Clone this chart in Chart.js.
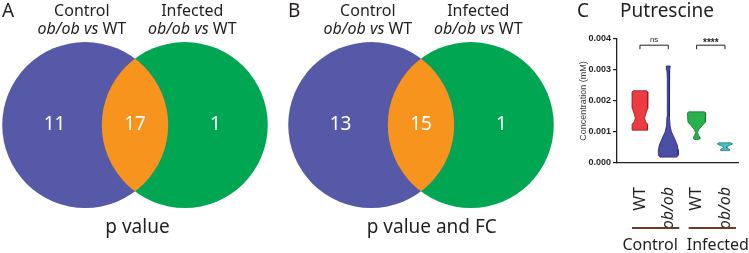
<!DOCTYPE html>
<html>
<head>
<meta charset="utf-8">
<title>Putrescine</title>
<script src="https://cdn.jsdelivr.net/npm/chart.js@4.4.1/dist/chart.umd.min.js"></script>
<style>
  html, body { margin: 0; padding: 0; background: #fff; }
  #page { position: relative; width: 749px; height: 253px; overflow: hidden; }
  #page canvas { position: absolute; top: 0; }
</style>
</head>
<body>
<div id="page">
  <canvas id="vennA" width="270" height="253" style="left:0px"></canvas>
  <canvas id="vennB" width="270" height="253" style="left:286px"></canvas>
  <canvas id="violin" width="229" height="253" style="left:520px"></canvas>
</div>
<script>
// ---- data ----
const vennSets = ['Control', 'Infected'];
const pValueCounts = [11, 17, 1];      // Control only, shared, Infected only
const pValueFcCounts = [13, 15, 1];

const genotypes = ['WT', 'ob/ob', 'WT', 'ob/ob'];
const groups = ['Control', 'Infected'];
const yTickValues = [0, 0.001, 0.002, 0.003, 0.004];

// violin outlines, top to bottom: [concentration (mM), relative half width]
const wtControl = [[0.00233, 0.85], [0.00229, 1], [0.00200, 1], [0.00176, 0.95], [0.00160, 0.75], [0.00145, 0.58], [0.00134, 0.7], [0.00124, 0.98], [0.00110, 1], [0.00106, 0.9]];
const obControl = [[0.00313, 0.2], [0.00300, 0.14], [0.00270, 0.1], [0.00200, 0.1], [0.00150, 0.13], [0.00120, 0.18], [0.00100, 0.32], [0.00080, 0.62], [0.00058, 0.9], [0.00042, 1], [0.00025, 1], [0.00019, 0.85]];
const wtInfected = [[0.00165, 0.85], [0.00162, 1], [0.00150, 1], [0.00132, 0.95], [0.00120, 0.6], [0.00108, 0.25], [0.00098, 0.1], [0.00090, 0.2], [0.00083, 0.35], [0.00078, 0.35], [0.00076, 0.2]];
const obInfected = [[0.00065, 0.85], [0.00061, 1], [0.00057, 0.6], [0.00052, 0.2], [0.00048, 0.25], [0.00044, 0.55], [0.00041, 0.6], [0.00040, 0.5]];

// [q1, median, q3], null where no line is visible
const wtControlQ = [0.00126, 0.0018, 0.00209];
const obControlQ = [0.00040, 0.00055, null];
const wtInfectedQ = [0.00130, 0.00145, 0.00158];
const obInfectedQ = [null, 0.00059, null];

const comparisons = [['ns', 0, 1], ['****', 2, 3]];

// ---- styles ----
const FONT = '"Noto Sans", sans-serif';
const AXIS_FONT = '"Liberation Sans", Arial, sans-serif';
const INK = '#231f20';
const VENN_BLUE = '#5659a7';
const VENN_GREEN = '#00a651';
const VENN_ORANGE = '#f7941e';
const VENN_SHIFT = 0.6;   // circle centre offset, in radii

const violinFill = ['#ee3b3f', '#4a4ea6', '#27b24b', '#45c3c9'];
const violinEdge = ['#8e1b1f', '#23266b', '#137030', '#1d7378'];
const violinHalfWidth = [0.28, 0.35, 0.32, 0.27];
const groupLabelAt = [1.36, 3.75];

// ---- venn diagrams ----
const unitRadius = (ctx) => {
    const s = ctx.chart.scales.x;
    return s.getPixelForValue(1) - s.getPixelForValue(0);
};

const vennPlugin = {
    id: 'venn',
    afterDatasetsDraw(chart, args, opts) {
        const { ctx, scales: { x, y } } = chart;
        const r = x.getPixelForValue(1) - x.getPixelForValue(0);
        const cy = y.getPixelForValue(0);
        const lx = x.getPixelForValue(-VENN_SHIFT);
        const rx = x.getPixelForValue(VENN_SHIFT);

        // overlap lens
        ctx.save();
        ctx.beginPath();
        ctx.arc(lx, cy, r, 0, Math.PI * 2);
        ctx.clip();
        ctx.beginPath();
        ctx.arc(rx, cy, r, 0, Math.PI * 2);
        ctx.fillStyle = VENN_ORANGE;
        ctx.fill();
        ctx.restore();

        ctx.save();
        // counts
        ctx.fillStyle = '#ffffff';
        ctx.font = `19px ${FONT}`;
        ctx.textAlign = 'center';
        ctx.textBaseline = 'middle';
        [-0.97, 0, 0.97].forEach((u, i) => {
            ctx.fillText(String(opts.counts[i]), x.getPixelForValue(u), cy);
        });

        // set headers
        ctx.fillStyle = INK;
        [-0.64, 0.69].forEach((u, i) => {
            const px = x.getPixelForValue(u);
            ctx.font = `16px ${FONT}`;
            ctx.textAlign = 'center';
            ctx.fillText(vennSets[i], px, 11);
            const italicPart = 'ob/ob vs ';
            const plainPart = 'WT';
            ctx.font = `italic 16px ${FONT}`;
            const w1 = ctx.measureText(italicPart).width;
            ctx.font = `16px ${FONT}`;
            const w2 = ctx.measureText(plainPart).width;
            const start = px - (w1 + w2) / 2;
            ctx.textAlign = 'left';
            ctx.font = `italic 16px ${FONT}`;
            ctx.fillText(italicPart, start, 29);
            ctx.font = `16px ${FONT}`;
            ctx.fillText(plainPart, start + w1, 29);
        });

        // caption and panel letter
        ctx.textAlign = 'center';
        ctx.font = `19px ${FONT}`;
        ctx.fillText(opts.caption, x.getPixelForValue(opts.captionAt), 228);
        ctx.textAlign = 'left';
        ctx.fillText(opts.letter, 2, 12);
        ctx.restore();
    }
};

function makeVenn(id, counts, caption, captionAt, letter) {
    return new Chart(document.getElementById(id), {
        type: 'scatter',
        data: {
            datasets: [
                { data: [{ x: -VENN_SHIFT, y: 0 }], pointBackgroundColor: VENN_BLUE },
                { data: [{ x: VENN_SHIFT, y: 0 }], pointBackgroundColor: VENN_GREEN }
            ]
        },
        options: {
            responsive: false,
            animation: false,
            events: [],
            layout: { padding: 0 },
            elements: { point: { radius: unitRadius, hoverRadius: 0, borderWidth: 0 } },
            plugins: {
                legend: { display: false },
                tooltip: { enabled: false },
                venn: { counts, caption, captionAt, letter }
            },
            scales: {
                x: { type: 'linear', display: false, min: -1.627, max: 1.627 },
                y: { type: 'linear', display: false, min: -1.542, max: 1.506 }
            }
        },
        plugins: [vennPlugin]
    });
}

makeVenn('vennA', pValueCounts, 'p value', 0.03, 'A');
makeVenn('vennB', pValueFcCounts, 'p value and FC', 0.13, 'B');

// ---- violin plot ----
function widthAt(profile, v) {
    for (let i = 0; i < profile.length - 1; i++) {
        const [v0, d0] = profile[i];
        const [v1, d1] = profile[i + 1];
        if (v <= v0 && v >= v1) {
            return d0 + (d1 - d0) * (v0 - v) / (v0 - v1);
        }
    }
    return 0;
}

const violins = [wtControl, obControl, wtInfected, obInfected];
const quartiles = [wtControlQ, obControlQ, wtInfectedQ, obInfectedQ];
const violinSets = [];

violins.forEach((prof, i) => {
    const c = i + 1;
    const w = violinHalfWidth[i];
    const right = prof.map(([v, d]) => ({ x: c + d * w, y: v }));
    const left = prof.slice().reverse().map(([v, d]) => ({ x: c - d * w, y: v }));
    violinSets.push({
        data: [...right, ...left, right[0]],
        backgroundColor: violinFill[i],
        borderColor: violinEdge[i],
        borderWidth: 0.8,
        fill: 'shape',
        pointRadius: 0,
        tension: 0
    });
    quartiles[i].forEach((q, k) => {
        if (q === null) return;
        const hw = widthAt(prof, q) * w;
        violinSets.push({
            data: [{ x: c - hw, y: q }, { x: c + hw, y: q }],
            borderColor: violinEdge[i],
            borderWidth: 1,
            borderDash: k === 1 ? [2.5, 1.5] : [1, 1],
            fill: false,
            pointRadius: 0
        });
    });
});

const violinDecor = {
    id: 'violinDecor',
    afterDraw(chart) {
        const { ctx, scales: { x, y } } = chart;
        ctx.save();
        ctx.fillStyle = INK;
        ctx.strokeStyle = INK;

        // panel letter and title
        ctx.font = `19px ${FONT}`;
        ctx.textBaseline = 'middle';
        ctx.textAlign = 'left';
        ctx.fillText('C', 57, 12);
        ctx.textAlign = 'center';
        ctx.fillText('Putrescine', 147, 12);

        // significance brackets
        ctx.lineWidth = 1;
        const yb = y.getPixelForValue(0.0038);
        comparisons.forEach(([label, a, b]) => {
            const x1 = x.getPixelForValue(a + 1);
            const x2 = x.getPixelForValue(b + 1);
            ctx.beginPath();
            ctx.moveTo(x1, yb + 4);
            ctx.lineTo(x1, yb);
            ctx.lineTo(x2, yb);
            ctx.lineTo(x2, yb + 4);
            ctx.stroke();
            ctx.textBaseline = 'bottom';
            if (label === 'ns') {
                ctx.font = `8px ${AXIS_FONT}`;
                ctx.fillText(label, (x1 + x2) / 2, yb - 1);
            } else {
                ctx.font = `bold 10px ${AXIS_FONT}`;
                ctx.fillText(label, (x1 + x2) / 2, yb + 3);
            }
        });

        // group underlines and names
        groups.forEach((g, i) => {
            const x1 = x.getPixelForValue(2 * i + 1) - 8;
            const x2 = x.getPixelForValue(2 * i + 2) + 11;
            ctx.strokeStyle = '#6b3d22';
            ctx.lineWidth = 2;
            ctx.beginPath();
            ctx.moveTo(x1, 228);
            ctx.lineTo(x2, 228);
            ctx.stroke();
            ctx.font = `16px ${FONT}`;
            ctx.textBaseline = 'middle';
            ctx.fillText(g, x.getPixelForValue(groupLabelAt[i]), 245);
        });
        ctx.restore();
    }
};

new Chart(document.getElementById('violin'), {
    type: 'line',
    data: { datasets: violinSets },
    options: {
        responsive: false,
        animation: false,
        events: [],
        layout: { padding: { left: 58, right: 11, top: 39, bottom: 0 } },
        plugins: { legend: { display: false }, tooltip: { enabled: false } },
        scales: {
            x: {
                type: 'linear',
                min: 0.19,
                max: 4.46,
                afterBuildTicks: (s) => { s.ticks = genotypes.map((g, i) => ({ value: i + 1 })); },
                afterFit: (s) => {
                    s.height = 90;
                    s.paddingLeft = 0;
                    s.paddingRight = 0;
                },
                grid: { display: false },
                border: { color: INK, width: 1.3 },
                ticks: {
                    autoSkip: false,
                    minRotation: 90,
                    maxRotation: 90,
                    padding: 16,
                    color: INK,
                    callback: (v, i) => genotypes[i],
                    font: (c) => ({ family: FONT, size: 16, style: genotypes[c.index] === 'ob/ob' ? 'italic' : 'normal' })
                }
            },
            y: {
                type: 'linear',
                min: 0,
                max: 0.004,
                afterBuildTicks: (s) => { s.ticks = yTickValues.map((v) => ({ value: v })); },
                afterFit: (s) => { s.width = 39; },
                grid: { drawOnChartArea: false, tickLength: 4, color: INK, lineWidth: 1.2 },
                border: { color: INK, width: 1.3 },
                ticks: {
                    padding: 2,
                    color: INK,
                    callback: (v) => Number(v).toFixed(3),
                    font: { family: AXIS_FONT, size: 9, weight: 'bold' }
                },
                title: {
                    display: true,
                    text: 'Concentration (mM)',
                    color: '#3a3a3a',
                    font: { family: AXIS_FONT, size: 9 },
                    padding: 0
                }
            }
        }
    },
    plugins: [violinDecor]
});
</script>
</body>
</html>
